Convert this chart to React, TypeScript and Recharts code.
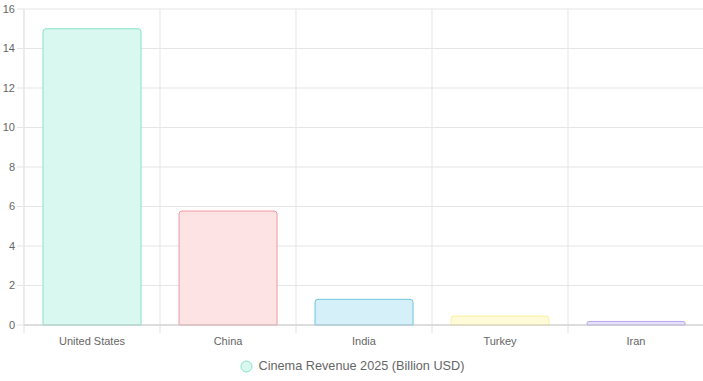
import React from 'react';
import { BarChart, Bar, Cell, XAxis, YAxis, CartesianGrid, Legend } from 'recharts';

const countries = ['United States', 'China', 'India', 'Turkey', 'Iran'];
const revenue = [15, 5.77, 1.3, 0.45, 0.18];
const yTicks = [0, 2, 4, 6, 8, 10, 12, 14, 16];

const fills = ['#d9f8ef', '#fee3e5', '#d6f0fa', '#fffbd9', '#e7e1fb'];
const strokes = ['#86e3c7', '#ee9aa2', '#6cc5df', '#fff09a', '#b6a4f2'];

const data = countries.map((name, i) => ({ name, value: revenue[i] }));

const FONT = '"Liberation Sans", Arial, Helvetica, sans-serif';

const XTick = (props: any) => {
  const { x, y, payload, index } = props;
  const half = payload.offset || 0;
  return (
    <g>
      <line x1={x - half} x2={x - half} y1={y - 8} y2={y} stroke="#e0e0e0" />
      {index === countries.length - 1 && (
        <line x1={x + half} x2={x + half} y1={y - 8} y2={y} stroke="#e0e0e0" />
      )}
      <text x={x} y={y + 12} textAnchor="middle" fill="#666" fontSize={11} fontFamily={FONT}>
        {payload.value}
      </text>
    </g>
  );
};

const LegendContent = () => (
  <div style={{ display: 'flex', justifyContent: 'center', alignItems: 'center', fontFamily: FONT, fontSize: 12.7, color: '#666', lineHeight: '14px' }}>
    <svg width={13} height={13} style={{ marginRight: 6 }}>
      <circle cx={6.5} cy={6.5} r={5.5} fill={fills[0]} stroke={strokes[0]} strokeWidth={1} />
    </svg>
    <span>Cinema Revenue 2025 (Billion USD)</span>
  </div>
);

const App: React.FC = () => {
  return (
    <div style={{ position: 'absolute', left: 0, top: 0, width: 703, height: 381, background: '#fff' }}>
      <BarChart width={703} height={381} data={data} margin={{ top: 9, right: -1, left: 0, bottom: 0 }} barCategoryGap="14%">
        <CartesianGrid
          stroke="#e5e5e5"
          verticalCoordinatesGenerator={({ offset }: any) =>
            countries.map((_, i) => offset.left + (i * offset.width) / countries.length).concat([offset.left + offset.width])
          }
        />
        <XAxis
          dataKey="name"
          stroke="#c8c8c8"
          tickLine={false}
          tick={<XTick />}
          height={34}
          interval={0}
        />
        <YAxis
          domain={[0, 16]}
          ticks={yTicks}
          width={24}
          tickSize={7}
          tickMargin={2}
          stroke="#e5e5e5"
          tick={{ fill: '#666', fontSize: 11, fontFamily: FONT }}
          tickLine={{ stroke: '#e5e5e5' }}
        />
        <Legend content={<LegendContent />} verticalAlign="bottom" height={22} />
        <Bar dataKey="value" isAnimationActive={false} radius={[3, 3, 0, 0]} strokeWidth={1}>
          {data.map((_, i) => (
            <Cell key={`cell-${i}`} fill={fills[i]} stroke={strokes[i]} />
          ))}
        </Bar>
      </BarChart>
    </div>
  );
};

export default App;
